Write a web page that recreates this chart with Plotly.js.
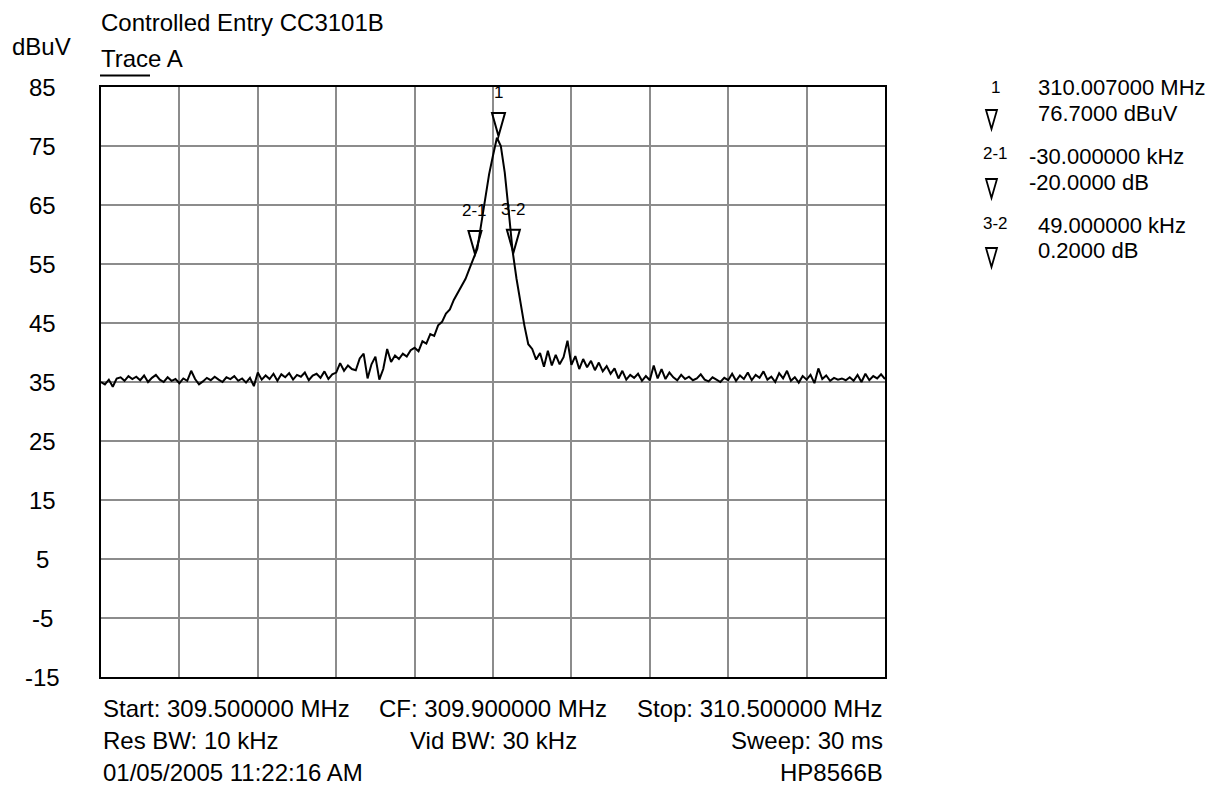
<!DOCTYPE html>
<html>
<head>
<meta charset="utf-8">
<script src="https://cdn.plot.ly/plotly-3.0.1.min.js"></script>
<style>html,body{margin:0;padding:0;background:#fff;}#chart{width:1232px;height:788px;}</style>
</head>
<body>
<div id="chart"></div>
<script>
// ---- data ----
const startFreq = 309.5;      // MHz
const stopFreq = 310.5;       // MHz
const freqStep = 0.005;       // MHz between trace points
const traceLevel = [
  35.0, 34.6, 35.4, 34.2, 35.6, 35.8, 35.2, 36.0, 35.5, 35.9,
  35.3, 36.1, 35.0, 35.7, 36.2, 35.4, 35.0, 35.8, 35.2, 35.5,
  34.8, 35.6, 35.2, 36.9, 35.5, 34.6, 35.1, 35.7, 35.3, 35.9,
  35.4, 35.0, 35.8, 35.5, 36.0, 35.2, 35.6, 34.9, 35.7, 34.3,
  36.6, 35.4, 36.1, 35.5, 36.4, 35.2, 36.3, 35.8, 36.5, 35.4,
  36.2, 35.9, 36.6, 35.3, 36.1, 36.4, 35.7, 36.8, 35.5, 36.3,
  36.6, 38.2, 36.9, 37.8, 37.2, 37.0, 39.0, 39.8, 35.6, 38.0,
  39.3, 35.4, 37.2, 40.6, 38.4, 39.5, 38.9, 39.8, 39.3, 40.4,
  40.8, 40.2, 41.9, 41.5, 43.1, 42.8, 44.6, 45.2, 46.6, 47.3,
  48.9, 50.1, 51.4, 52.5, 54.2, 56.0, 57.6, 61.8, 65.9, 70.2,
  73.4, 76.4, 75.0, 70.5, 64.0, 57.2, 52.5, 48.2, 44.6, 41.4,
  40.6, 38.8, 39.9, 37.6, 40.3, 37.8, 39.6, 38.0, 39.2, 42.0,
  37.9, 39.4, 37.2, 38.9, 37.5, 38.6, 37.0, 38.3, 36.8, 37.7,
  36.4, 37.3, 35.6, 36.9, 35.4, 36.2, 35.7, 36.4, 35.2, 36.0,
  35.3, 37.8, 35.6, 37.2, 35.5, 36.6, 35.8, 35.3, 36.2, 35.5,
  35.9, 35.3, 35.6, 36.3, 35.4, 35.1, 35.8, 35.4, 35.0, 35.7,
  35.3, 36.4, 35.2, 36.1, 35.5, 36.6, 35.3, 36.2, 35.7, 36.8,
  35.4, 35.9, 35.0, 36.5, 35.6, 36.9, 35.2, 35.8, 34.9, 36.0,
  35.4, 36.2, 34.8, 37.3, 35.5, 36.1, 35.2, 35.7, 35.4, 35.6,
  35.3, 35.8, 35.2, 36.2, 35.0, 36.4, 35.3, 36.0, 35.6, 36.3,
  35.5
];
const markerFreq = [310.007, 309.977, 310.026];   // MHz
const markerLevel = [76.7, 56.7, 56.9];           // dBuV
const markerLabels = ['1', '2-1', '3-2'];
const yTicks = [85, 75, 65, 55, 45, 35, 25, 15, 5, -5, -15];
const readoutTags = ['1', '2-1', '3-2'];
const readoutFreq = ['310.007000 MHz', '-30.000000 kHz', '49.000000 kHz'];
const readoutLevel = ['76.7000 dBuV', '-20.0000 dB', '0.2000 dB'];
const titleText = 'Controlled Entry CC3101B';
const traceName = 'Trace A';
const unitText = 'dBuV';
const footerRows = [
  ['Start: 309.500000 MHz', 'CF: 309.900000 MHz', 'Stop: 310.500000 MHz'],
  ['Res BW: 10 kHz', 'Vid BW: 30 kHz', 'Sweep: 30 ms'],
  ['01/05/2005 11:22:16 AM', '', 'HP8566B']
];

// ---- build ----
const freq = traceLevel.map((_, i) => +(startFreq + i * freqStep).toFixed(4));

const W = 1232, H = 788;
const L = 101, R = 885, T = 87, B = 677;
const px = x => (x - L) / (R - L);
const py = y => (B - y) / (B - T);
const FONT = 'Liberation Sans, Arial, sans-serif';
const FS = 24;
const RFS = 22;
const SMALL = 17;

const annotations = [];
const shapes = [];

// y tick labels
yTicks.forEach(v => annotations.push({
  xref: 'paper', yref: 'y', x: px(42), y: v, text: String(v),
  showarrow: false, xanchor: 'center', yanchor: 'middle',
  font: {family: FONT, size: FS, color: '#000'}
}));

// header texts
annotations.push({xref:'paper', yref:'paper', x: px(99), y: py(22), text: titleText,
  showarrow:false, xanchor:'left', yanchor:'middle', font:{family:FONT, size:FS, color:'#000'}});
annotations.push({xref:'paper', yref:'paper', x: px(99), y: py(58), text: traceName,
  showarrow:false, xanchor:'left', yanchor:'middle', font:{family:FONT, size:FS, color:'#000'}});
annotations.push({xref:'paper', yref:'paper', x: px(10), y: py(47), text: unitText,
  showarrow:false, xanchor:'left', yanchor:'middle', font:{family:FONT, size:FS, color:'#000'}});
shapes.push({type:'line', xref:'paper', yref:'paper', x0: px(100), x1: px(150), y0: py(75.5), y1: py(75.5),
  line:{color:'#000', width:2}});

// footer
const rowY = [708, 740, 772];
footerRows.forEach((row, r) => {
  const anchors = [['left', 0], ['center', 0.5], ['right', 1]];
  row.forEach((txt, c) => {
    if (!txt) return;
    annotations.push({xref:'paper', yref:'paper', x: anchors[c][1], y: py(rowY[r]), text: txt,
      showarrow:false, xanchor: anchors[c][0], yanchor:'middle', font:{family:FONT, size:FS, color:'#000'}});
  });
});

// markers on the trace: open triangles whose tip sits on the level
markerFreq.forEach((f, k) => {
  shapes.push({type:'path', xref:'x', yref:'y', xsizemode:'pixel', ysizemode:'pixel',
    xanchor: f, yanchor: markerLevel[k], path: 'M -6.5,23 L 6.5,23 L 0,0 Z',
    line:{color:'#000', width:2}, fillcolor:'rgba(0,0,0,0)'});
  annotations.push({xref:'x', yref:'y', x: f, y: markerLevel[k], text: markerLabels[k],
    showarrow:false, xanchor:'center', yanchor:'middle', yshift: 43,
    font:{family:FONT, size:SMALL, color:'#000'}});
});

// marker readout on the right
const tagY = [88, 153, 223];
const freqY = [88, 156, 225];
const levY = [114, 182, 251];
const triTipY = [129, 198, 267];
readoutTags.forEach((t, k) => {
  annotations.push({xref:'paper', yref:'paper', x: px(995), y: py(tagY[k]), text: t,
    showarrow:false, xanchor:'center', yanchor:'middle', font:{family:FONT, size:SMALL, color:'#000'}});
  annotations.push({xref:'paper', yref:'paper', x: px(readoutFreq[k].startsWith('-') ? 1027 : 1036), y: py(freqY[k]), text: readoutFreq[k],
    showarrow:false, xanchor:'left', yanchor:'middle', font:{family:FONT, size:RFS, color:'#000'}});
  annotations.push({xref:'paper', yref:'paper', x: px(readoutLevel[k].startsWith('-') ? 1027 : 1036), y: py(levY[k]), text: readoutLevel[k],
    showarrow:false, xanchor:'left', yanchor:'middle', font:{family:FONT, size:RFS, color:'#000'}});
  shapes.push({type:'path', xref:'paper', yref:'paper', xsizemode:'pixel', ysizemode:'pixel',
    xanchor: px(991.5), yanchor: py(triTipY[k]), path: 'M -5.5,19 L 5.5,19 L 0,0 Z',
    line:{color:'#000', width:1.8}, fillcolor:'rgba(0,0,0,0)'});
});

const data = [{
  type: 'scatter', mode: 'lines', x: freq, y: traceLevel,
  line: {color: '#000', width: 2}, hoverinfo: 'skip', showlegend: false
}];

const layout = {
  width: W, height: H,
  margin: {l: L, r: W - R, t: T, b: H - B, pad: 0},
  paper_bgcolor: '#fff', plot_bgcolor: '#fff',
  showlegend: false,
  font: {family: FONT, size: FS, color: '#000'},
  xaxis: {
    range: [startFreq, stopFreq], tick0: startFreq, dtick: 0.1,
    showgrid: true, gridcolor: '#8c8c8c', gridwidth: 2,
    showticklabels: false, ticks: '', zeroline: false,
    showline: true, mirror: true, linecolor: '#000', linewidth: 2
  },
  yaxis: {
    range: [-15, 85], tick0: -15, dtick: 10,
    showgrid: true, gridcolor: '#8c8c8c', gridwidth: 2,
    showticklabels: false, ticks: '', zeroline: false,
    showline: true, mirror: true, linecolor: '#000', linewidth: 2
  },
  annotations: annotations,
  shapes: shapes
};

Plotly.newPlot('chart', data, layout, {displayModeBar: false, staticPlot: true});
</script>
</body>
</html>
